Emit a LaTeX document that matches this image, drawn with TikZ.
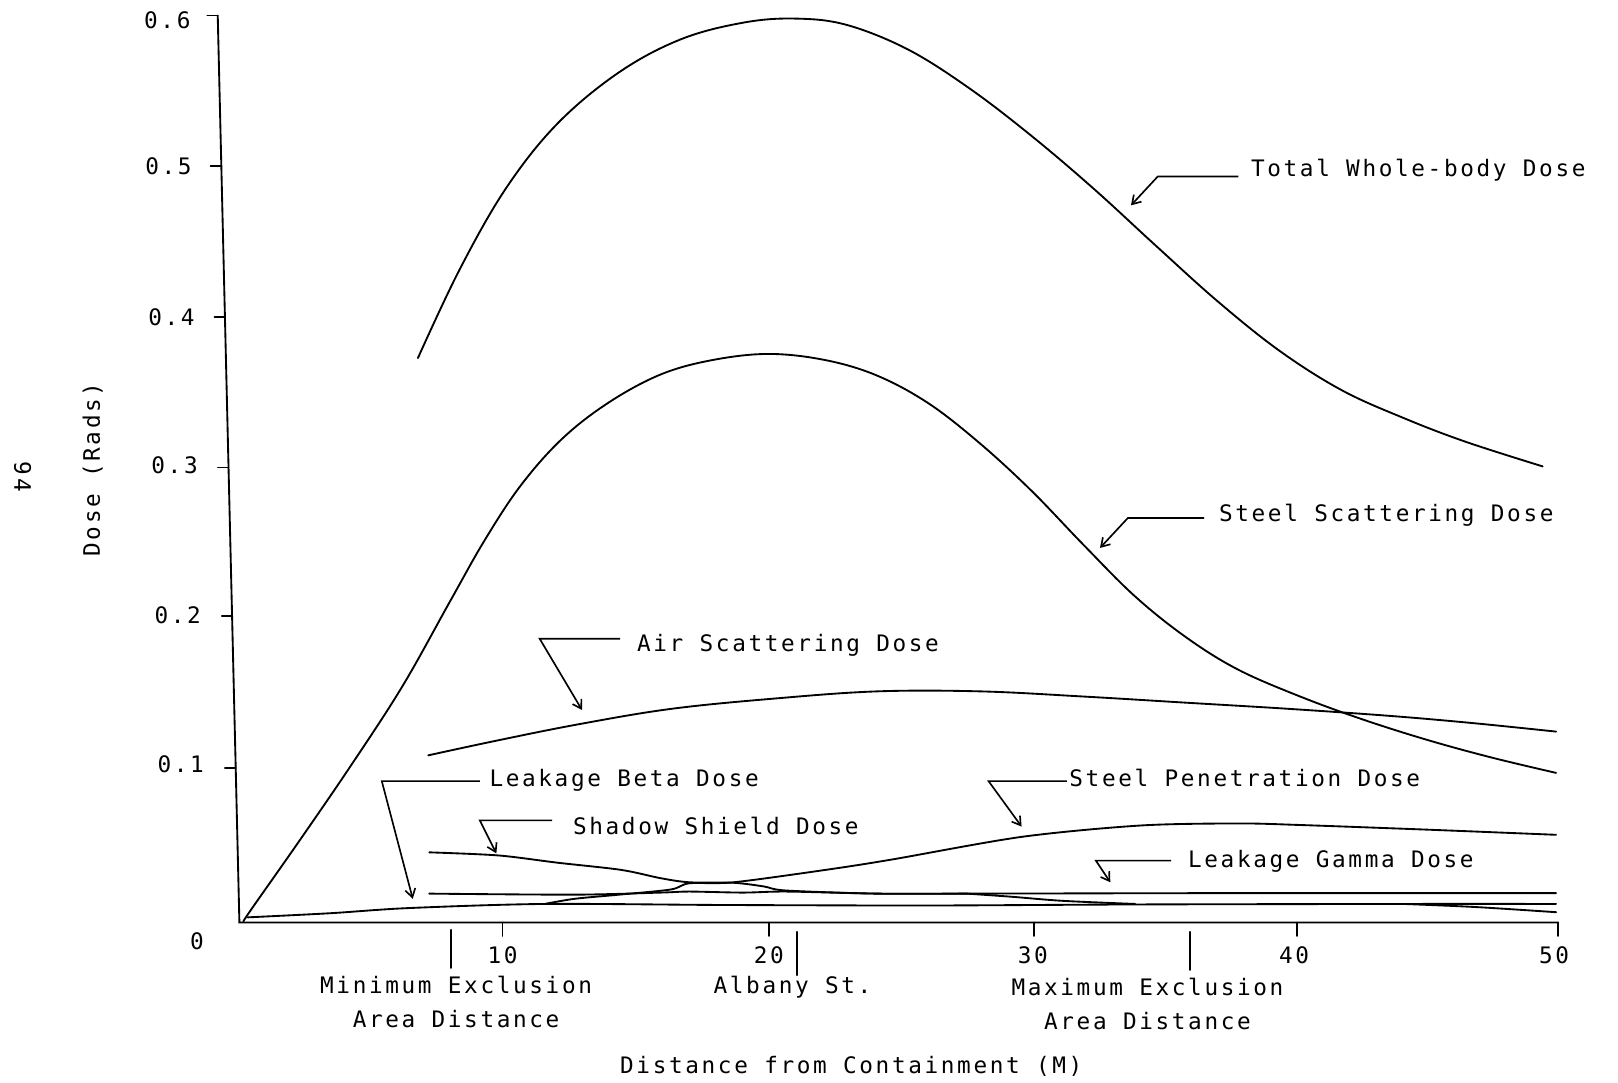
\documentclass[tikz,border=0pt]{standalone}
\usepackage{fontspec}
\newfontfamily\pf[LetterSpace=11.6]{DejaVu Sans Mono}
\usetikzlibrary{arrows.meta}
\begin{document}
\begin{tikzpicture}[x=0.5pt,y=-0.5pt,
  curve/.style={line width=0.9pt, line join=round, line cap=round},
  axisline/.style={line width=0.9pt, line cap=round},
  leader/.style={line width=0.8pt, line join=miter, -{Straight Barb[length=4pt,width=5pt]}},
  lbl/.style={font=\pf\fontsize{11}{13}\selectfont, inner sep=0pt},
]
\useasboundingbox (0,0) rectangle (1568,1049);

% axes
\coordinate (ytop) at (211,15);
\coordinate (orig) at (232,894);
\coordinate (xend) at (1510,894);
\draw[axisline] (ytop) -- (orig) -- (xend);

% y ticks
\draw[axisline] (201,15) -- (211,15);
\draw[axisline] (204,161) -- (214.5,161);
\draw[axisline] (208,307) -- (218,307);
\draw[axisline] (211,453) -- (221.5,453);
\draw[axisline] (215,597) -- (225,597);
\draw[axisline] (218,744) -- (228.4,744);

% y tick labels
\node[lbl, anchor=base east] (y6) at (185,28) {0.6};
\node[lbl, anchor=base east] (y5) at (186,169) {0.5};
\node[lbl, anchor=base east] (y4) at (189,315) {0.4};
\node[lbl, anchor=base east] (y3) at (192,459) {0.3};
\node[lbl, anchor=base east] (y2) at (195,604) {0.2};
\node[lbl, anchor=base east] (y1) at (198,749) {0.1};
\node[lbl, anchor=base east] (y0) at (198,920) {0};

% x ticks
\foreach \xx in {487,745,1002,1257,1510} \draw[axisline] (\xx,894) -- (\xx,907);
% markers
\draw[axisline] (437,901) -- (437,938);
\draw[axisline] (772,903) -- (772,945);
\draw[axisline] (1153,903) -- (1153,940);

% x tick labels
\node[lbl, anchor=base] (x10) at (487,934) {10};
\node[lbl, anchor=base] (x20) at (745,934) {20};
\node[lbl, anchor=base] (x30) at (1001,934) {30};
\node[lbl, anchor=base] (x40) at (1254,934) {40};
\node[lbl, anchor=base] (x50) at (1506,934) {50};

\node[lbl, anchor=base] (minA) at (442,963) {Minimum Exclusion};
\node[lbl, anchor=base] (minB) at (442,996) {Area Distance};
\node[lbl, anchor=base] (alb) at (768,963) {Albany St.};
\node[lbl, anchor=base] (maxA) at (1112,965) {Maximum Exclusion};
\node[lbl, anchor=base] (maxB) at (1112,998) {Area Distance};
\node[lbl, anchor=base] (xlab) at (825,1040) {Distance from Containment (M)};

\node[lbl, rotate=90] (ylab) at (90,455) {Dose (Rads)};
\node[lbl, rotate=-90] (pg) at (22,462) {94};

% ---- curves ----
% Total whole-body dose
\draw[curve] plot[smooth, tension=0.6] coordinates {
 (405,347) (445,262) (490,183) (540,120) (600,70) (660,38) (720,22)
 (770,18) (820,24) (880,48) (940,86) (1000,132) (1060,183) (1120,238)
 (1180,292) (1240,340) (1300,378) (1360,405) (1420,428) (1495,452)};

% Steel scattering dose
\draw[curve] plot[smooth, tension=0.6] coordinates {
 (236,893) (243,882) (290,815) (340,742) (390,665) (436,583) (470,523)
 (505,470) (545,425) (590,390) (640,363) (690,349) (745,343) (800,349)
 (850,364) (900,391) (950,430) (1000,476) (1050,528) (1100,578)
 (1150,618) (1200,649) (1260,675) (1320,697) (1383,717) (1445,734) (1508,749)};

% Air scattering dose
\draw[curve] plot[smooth, tension=0.6] coordinates {
 (415,732) (480,718) (560,702) (650,687) (750,677) (850,670)
 (950,670) (1050,675) (1150,681) (1250,687) (1350,694) (1430,701) (1508,709)};

% Steel penetration (with rising lower part)
\draw[curve] plot[smooth, tension=0.5] coordinates {
 (528,876) (557,871) (600,867) (650,862) (668,856) (711,855) (800,843)
 (864,833) (990,811) (1105,800) (1200,798) (1260,799.5) (1383,804) (1508,809)};

% Shadow shield dose
\draw[curve] plot[smooth, tension=0.5] coordinates {
 (416,826) (483,829) (540,836) (602,843) (640,851) (668,855) (711,855.5)
 (740,859) (762,863) (850,866) (937,866)};

% Leakage gamma dose
\draw[curve] plot[smooth, tension=0.5] coordinates {
 (416,866) (557,867) (640,865) (668,864) (720,865) (762,864) (850,866)
 (937,866) (1200,865.5) (1508,865.5)};

% Leakage beta dose
\draw[curve] plot[smooth, tension=0.5] coordinates {
 (240,889) (320,885) (396,880) (528,876) (700,877) (900,877.5)
 (1100,876.5) (1360,876) (1508,876)};
\draw[curve] plot[smooth, tension=0.5] coordinates {
 (937,866) (980,869) (1030,873) (1100,876)};
\draw[curve] plot[smooth, tension=0.5] coordinates {
 (1360,876) (1430,879) (1508,884)};

% ---- labels and leaders ----
\node[lbl, anchor=base west] (tw) at (1212,171) {Total Whole-body Dose};
\coordinate (tw-e) at (1200,171);
\coordinate (tw-c) at (1122,171);
\coordinate (tw-t) at (1096,199);
\draw[leader] (tw-e) -- (tw-c) -- (tw-t);

\node[lbl, anchor=base west] (ss) at (1181,505) {Steel Scattering Dose};
\coordinate (ss-e) at (1167,502);
\coordinate (ss-c) at (1093,502);
\coordinate (ss-t) at (1066,531);
\draw[leader] (ss-e) -- (ss-c) -- (ss-t);

\node[lbl, anchor=base west] (as) at (617,631) {Air Scattering Dose};
\coordinate (as-e) at (601,619);
\coordinate (as-c) at (523,619);
\coordinate (as-t) at (564,688);
\draw[leader] (as-e) -- (as-c) -- (as-t);

\node[lbl, anchor=base west] (lb) at (474,762) {Leakage Beta Dose};
\coordinate (lb-e) at (465,757);
\coordinate (lb-c) at (370,757);
\coordinate (lb-t) at (400,871);
\draw[leader] (lb-e) -- (lb-c) -- (lb-t);

\node[lbl, anchor=base west] (sh) at (555,809) {Shadow Shield Dose};
\coordinate (sh-e) at (535,795);
\coordinate (sh-c) at (465,795);
\coordinate (sh-t) at (481,827);
\draw[leader] (sh-e) -- (sh-c) -- (sh-t);

\node[lbl, anchor=base west] (sp) at (1036,762) {Steel Penetration Dose};
\coordinate (sp-e) at (1034,757);
\coordinate (sp-c) at (958,757);
\coordinate (sp-t) at (990,801);
\draw[leader] (sp-e) -- (sp-c) -- (sp-t);

\node[lbl, anchor=base west] (lg) at (1151,841) {Leakage Gamma Dose};
\coordinate (lg-e) at (1135,834);
\coordinate (lg-c) at (1062,834);
\coordinate (lg-t) at (1076,855);
\draw[leader] (lg-e) -- (lg-c) -- (lg-t);

\end{tikzpicture}
\end{document}
